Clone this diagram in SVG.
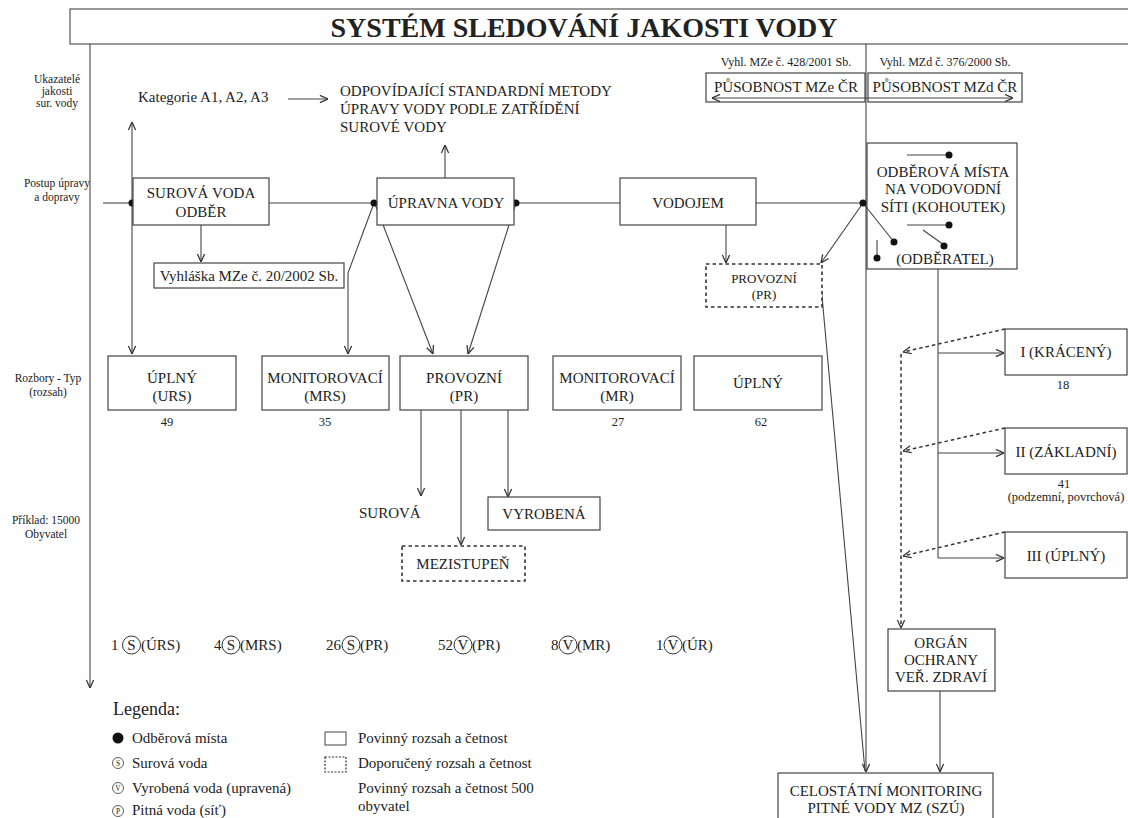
<svg xmlns="http://www.w3.org/2000/svg" width="1128" height="818" viewBox="0 0 1128 818">
<style>
text{font-family:"Liberation Serif","Times New Roman",serif;fill:#222}
.t15{font-size:15px}
.t13{font-size:13px}
.t11{font-size:11.5px}
.t12{font-size:12px}
.n{font-size:12.5px}
.m{text-anchor:middle}
.box{fill:#fff;stroke:#444;stroke-width:1.2}
.dbox{fill:#fff;stroke:#333;stroke-width:1.6;stroke-dasharray:3.5,3}
.ln{fill:none;stroke:#444;stroke-width:1.1}
.dl{fill:none;stroke:#333;stroke-width:1.5;stroke-dasharray:3.5,3}
.dot{fill:#111}
</style>
<defs>
<marker id="ah" viewBox="0 0 10 10" refX="10" refY="5" markerWidth="9" markerHeight="9" orient="auto-start-reverse" markerUnits="userSpaceOnUse">
<path d="M1,1 L10,5 L1,9" fill="none" stroke="#333" stroke-width="1.4"/>
</marker>
</defs>
<rect width="1128" height="818" fill="#fff"/>

<g id="title">
<rect x="70" y="9" width="1068" height="35" fill="#fff" stroke="#555" stroke-width="1.2"/>
<text x="584" y="37" class="m" style="font-size:28px;font-weight:bold">SYSTÉM SLEDOVÁNÍ JAKOSTI VODY</text>
</g>

<g id="row-labels">
<text class="t11 m" x="57" y="83">Ukazatelé</text>
<text class="t11 m" x="57" y="95">jakosti</text>
<text class="t11 m" x="57" y="107">sur. vody</text>
<text class="t11 m" x="57" y="187">Postup úpravy</text>
<text class="t11 m" x="57" y="201">a dopravy</text>
<text class="t11 m" x="48" y="382">Rozbory - Typ</text>
<text class="t11 m" x="48" y="396">(rozsah)</text>
<text class="t11 m" x="46" y="524">Příklad: 15000</text>
<text class="t11 m" x="46" y="538">Obyvatel</text>
</g>

<g id="connectors">
<line class="ln" x1="90" y1="44" x2="90" y2="688" marker-end="url(#ah)"/>
<line class="ln" x1="866" y1="44" x2="866" y2="772" marker-end="url(#ah)"/>
<line class="ln" x1="288" y1="99" x2="328" y2="99" marker-end="url(#ah)"/>
<line class="ln" x1="712" y1="98" x2="1013" y2="98" marker-start="url(#ah)" marker-end="url(#ah)"/>
<line class="ln" x1="103" y1="203" x2="133" y2="203"/>
<line class="ln" x1="269" y1="203" x2="377" y2="203"/>
<line class="ln" x1="514" y1="203" x2="620" y2="203"/>
<line class="ln" x1="756" y1="203" x2="863" y2="203"/>
<line class="ln" x1="132" y1="203" x2="132" y2="122" marker-end="url(#ah)"/>
<line class="ln" x1="132" y1="203" x2="132" y2="354" marker-end="url(#ah)"/>
<line class="ln" x1="201" y1="225" x2="201" y2="262" marker-end="url(#ah)"/>
<line class="ln" x1="445" y1="178" x2="445" y2="145" marker-end="url(#ah)"/>
<polyline class="ln" points="374,203 348,273 348,354" marker-end="url(#ah)"/>
<line class="ln" x1="375" y1="204" x2="433" y2="354" marker-end="url(#ah)"/>
<line class="ln" x1="516" y1="203" x2="468" y2="354" marker-end="url(#ah)"/>
<line class="ln" x1="726" y1="225" x2="726" y2="263" marker-end="url(#ah)"/>
<line class="ln" x1="863" y1="203" x2="821" y2="263" marker-end="url(#ah)"/>
<line class="ln" x1="863" y1="203" x2="894" y2="242"/>
<line class="ln" x1="821" y1="285" x2="865" y2="771"/>
<line class="ln" x1="421" y1="410" x2="421" y2="496" marker-end="url(#ah)"/>
<line class="ln" x1="461" y1="410" x2="461" y2="545" marker-end="url(#ah)"/>
<line class="ln" x1="508" y1="410" x2="508" y2="497" marker-end="url(#ah)"/>
<polyline class="ln" points="938,269 938,558"/>
<line class="ln" x1="938" y1="353" x2="1004" y2="353" marker-end="url(#ah)"/>
<line class="ln" x1="938" y1="453" x2="1004" y2="453" marker-end="url(#ah)"/>
<line class="ln" x1="938" y1="558" x2="1004" y2="558" marker-end="url(#ah)"/>
<line class="dl" x1="1005" y1="329" x2="903" y2="352" marker-end="url(#ah)"/>
<line class="dl" x1="1005" y1="428" x2="903" y2="451" marker-end="url(#ah)"/>
<line class="dl" x1="1005" y1="532" x2="903" y2="556" marker-end="url(#ah)"/>
<line class="dl" x1="901" y1="354" x2="901" y2="628" marker-end="url(#ah)"/>
<line class="ln" x1="940" y1="691" x2="940" y2="772" marker-end="url(#ah)"/>
<circle class="dot" cx="132" cy="203" r="3.5"/>
<circle class="dot" cx="374" cy="203" r="3.5"/>
<circle class="dot" cx="516" cy="203" r="3.5"/>
<circle class="dot" cx="863" cy="203" r="3.5"/>
<circle class="dot" cx="894" cy="242" r="3.5"/>
</g>

<g id="kategorie">
<text class="t15" x="138" y="102">Kategorie A1, A2, A3</text>
</g>
<g id="metody">
<text class="t15" x="340" y="96">ODPOVÍDAJÍCÍ STANDARDNÍ METODY</text>
<text class="t15" x="340" y="114">ÚPRAVY VODY PODLE ZATŘÍDĚNÍ</text>
<text class="t15" x="340" y="132">SUROVÉ VODY</text>
</g>

<g id="vyhl-mze">
<text class="t12 m" x="786" y="66">Vyhl. MZe č. 428/2001 Sb.</text>
<rect class="box" x="706" y="73" width="159" height="29" style="fill:none"/>
<text class="t15 m" x="786" y="92">PŮSOBNOST MZe ČR</text>
</g>
<g id="vyhl-mzd">
<text class="t12 m" x="945" y="66">Vyhl. MZd č. 376/2000 Sb.</text>
<rect class="box" x="868" y="73" width="154" height="29" style="fill:none"/>
<text class="t15 m" x="945" y="92">PŮSOBNOST MZd ČR</text>
</g>

<g id="surova-voda-odber">
<rect class="box" x="133" y="178" width="136" height="47"/>
<text class="t15 m" x="201" y="198">SUROVÁ VODA</text>
<text class="t15 m" x="201" y="217">ODBĚR</text>
</g>
<g id="vyhlaska">
<rect class="box" x="154" y="263" width="190" height="25"/>
<text class="t15 m" x="249" y="281">Vyhláška MZe č. 20/2002 Sb.</text>
</g>
<g id="upravna-vody">
<rect class="box" x="377" y="178" width="137" height="47"/>
<text class="t15 m" x="446" y="208">ÚPRAVNA VODY</text>
</g>
<g id="vodojem">
<rect class="box" x="620" y="178" width="136" height="47"/>
<text class="t15 m" x="688" y="208">VODOJEM</text>
</g>
<g id="provozni-pr-dashed">
<rect class="dbox" x="706" y="264" width="116" height="43"/>
<text class="t13 m" x="764" y="283">PROVOZNÍ</text>
<text class="t13 m" x="764" y="299">(PR)</text>
</g>
<g id="odberova-mista">
<rect class="box" x="867" y="143" width="150" height="126" style="fill:none"/>
<text class="t15 m" x="943" y="177">ODBĚROVÁ MÍSTA</text>
<text class="t15 m" x="943" y="194">NA VODOVODNÍ</text>
<text class="t15 m" x="943" y="212">SÍTI (KOHOUTEK)</text>
<text class="t15 m" x="945" y="264">(ODBĚRATEL)</text>
<line class="ln" x1="907" y1="155" x2="949" y2="155"/>
<circle class="dot" cx="949" cy="155" r="3.5"/>
<line class="ln" x1="907" y1="225" x2="949" y2="225"/>
<circle class="dot" cx="949" cy="225" r="3.5"/>
<line class="ln" x1="923" y1="230" x2="944" y2="245"/>
<circle class="dot" cx="944" cy="246" r="3.5"/>
<line class="ln" x1="877" y1="240" x2="877" y2="258"/>
<circle class="dot" cx="877" cy="258" r="3.5"/>
</g>

<g id="uplny-urs">
<rect class="box" x="108" y="356" width="128" height="54"/>
<text class="t15 m" x="172" y="383">ÚPLNÝ</text>
<text class="t15 m" x="172" y="401">(URS)</text>
<text class="n m" x="167" y="426">49</text>
</g>
<g id="monitorovaci-mrs">
<rect class="box" x="262" y="356" width="127" height="54"/>
<text class="t15 m" x="325" y="383">MONITOROVACÍ</text>
<text class="t15 m" x="325" y="401">(MRS)</text>
<text class="n m" x="325" y="426">35</text>
</g>
<g id="provozni-pr">
<rect class="box" x="400" y="356" width="128" height="54"/>
<text class="t15 m" x="464" y="383">PROVOZNÍ</text>
<text class="t15 m" x="464" y="401">(PR)</text>
</g>
<g id="monitorovaci-mr">
<rect class="box" x="553" y="356" width="128" height="54"/>
<text class="t15 m" x="617" y="383">MONITOROVACÍ</text>
<text class="t15 m" x="617" y="401">(MR)</text>
<text class="n m" x="618" y="426">27</text>
</g>
<g id="uplny">
<rect class="box" x="694" y="356" width="128" height="54"/>
<text class="t15 m" x="758" y="388">ÚPLNÝ</text>
<text class="n m" x="761" y="426">62</text>
</g>

<g id="surova">
<text class="t15" x="359" y="518">SUROVÁ</text>
</g>
<g id="vyrobena">
<rect class="box" x="488" y="497" width="112" height="33"/>
<text class="t15 m" x="544" y="519">VYROBENÁ</text>
</g>
<g id="mezistupen">
<rect class="dbox" x="402" y="546" width="123" height="35"/>
<text class="t15 m" x="463" y="569">MEZISTUPEŇ</text>
</g>

<g id="kraceny">
<rect class="box" x="1005" y="329" width="122" height="46"/>
<text class="t15 m" x="1066" y="357">I (KRÁCENÝ)</text>
<text class="n m" x="1063" y="389">18</text>
</g>
<g id="zakladni">
<rect class="box" x="1005" y="428" width="122" height="46"/>
<text class="t15 m" x="1066" y="457">II (ZÁKLADNÍ)</text>
<text class="n m" x="1064" y="488">41</text>
<text class="n m" x="1066" y="501">(podzemní, povrchová)</text>
</g>
<g id="uplny-iii">
<rect class="box" x="1005" y="532" width="122" height="46"/>
<text class="t15 m" x="1066" y="561">III (ÚPLNÝ)</text>
</g>
<g id="organ">
<rect class="box" x="888" y="629" width="107" height="62"/>
<text class="t15 m" x="941" y="648">ORGÁN</text>
<text class="t15 m" x="941" y="665">OCHRANY</text>
<text class="t15 m" x="941" y="682">VEŘ. ZDRAVÍ</text>
</g>
<g id="celostatni">
<rect class="box" x="778" y="773" width="215" height="60"/>
<text class="t15 m" x="886" y="796">CELOSTÁTNÍ MONITORING</text>
<text class="t15 m" x="886" y="813">PITNÉ VODY MZ (SZÚ)</text>
</g>

<g id="counts">
<text class="t15" x="111" y="650">1</text>
<circle cx="131.5" cy="645" r="9" fill="none" stroke="#333" stroke-width="1"/>
<text class="t15 m" x="131.5" y="650">S</text>
<text class="t15" x="141" y="650">(ÚRS)</text>
<text class="t15" x="214" y="650">4</text>
<circle cx="231" cy="645" r="9" fill="none" stroke="#333" stroke-width="1"/>
<text class="t15 m" x="231" y="650">S</text>
<text class="t15" x="240" y="650">(MRS)</text>
<text class="t15" x="326" y="650">26</text>
<circle cx="351" cy="645" r="9" fill="none" stroke="#333" stroke-width="1"/>
<text class="t15 m" x="351" y="650">S</text>
<text class="t15" x="360" y="650">(PR)</text>
<text class="t15" x="438" y="650">52</text>
<circle cx="463" cy="645" r="9" fill="none" stroke="#333" stroke-width="1"/>
<text class="t15 m" x="463" y="650">V</text>
<text class="t15" x="472" y="650">(PR)</text>
<text class="t15" x="551" y="650">8</text>
<circle cx="568" cy="645" r="9" fill="none" stroke="#333" stroke-width="1"/>
<text class="t15 m" x="568" y="650">V</text>
<text class="t15" x="577" y="650">(MR)</text>
<text class="t15" x="656" y="650">1</text>
<circle cx="673" cy="645" r="9" fill="none" stroke="#333" stroke-width="1"/>
<text class="t15 m" x="673" y="650">V</text>
<text class="t15" x="682" y="650">(ÚR)</text>
</g>

<g id="legend">
<text x="113" y="715" style="font-size:18px">Legenda:</text>
<circle class="dot" cx="118" cy="738" r="5.5"/>
<text class="t15" x="132" y="743">Odběrová místa</text>
<circle cx="118" cy="763" r="5.5" fill="none" stroke="#333" stroke-width="0.8"/>
<text x="118" y="765.7" class="m" style="font-size:7.5px">S</text>
<text class="t15" x="132" y="768">Surová voda</text>
<circle cx="118" cy="788" r="5.5" fill="none" stroke="#333" stroke-width="0.8"/>
<text x="118" y="790.7" class="m" style="font-size:7.5px">V</text>
<text class="t15" x="132" y="793">Vyrobená voda (upravená)</text>
<circle cx="118" cy="811" r="5.5" fill="none" stroke="#333" stroke-width="0.8"/>
<text x="118" y="813.7" class="m" style="font-size:7.5px">P</text>
<text class="t15" x="132" y="815">Pitná voda (síť)</text>
<rect x="325" y="732" width="21" height="13" fill="#fff" stroke="#444" stroke-width="1"/>
<text class="t15" x="358" y="743">Povinný rozsah a četnost</text>
<rect x="325" y="757" width="21" height="15" fill="#fff" stroke="#333" stroke-width="1.2" stroke-dasharray="2,1.5"/>
<text class="t15" x="358" y="768">Doporučený rozsah a četnost</text>
<text class="t15" x="358" y="793">Povinný rozsah a četnost 500</text>
<text class="t15" x="358" y="811">obyvatel</text>
</g>
</svg>
